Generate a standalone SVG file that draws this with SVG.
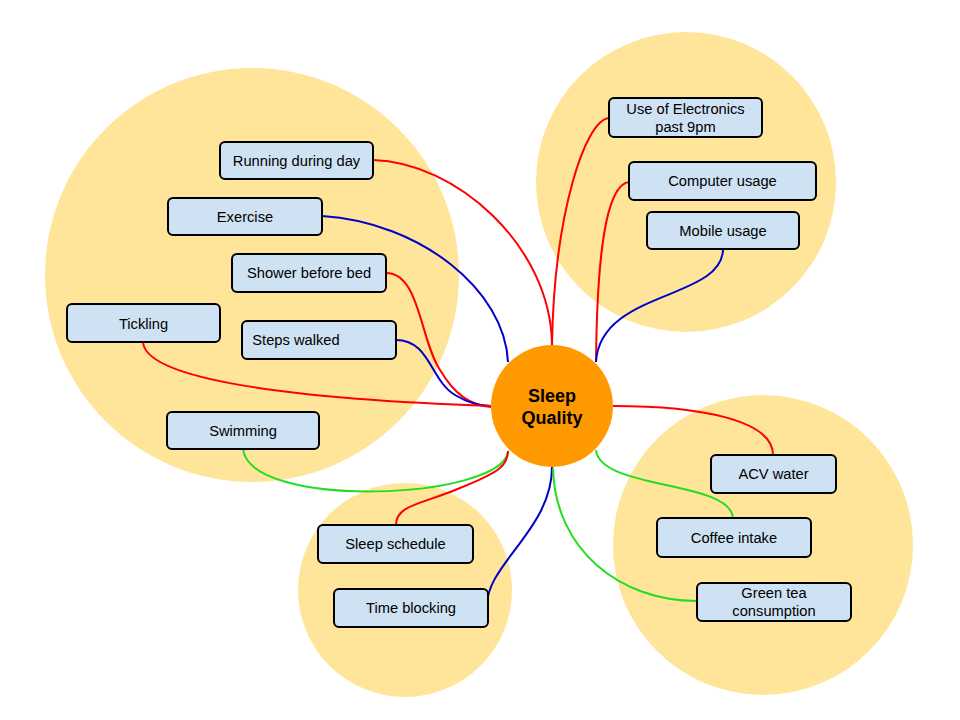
<svg xmlns="http://www.w3.org/2000/svg" width="960" height="720" viewBox="0 0 960 720">
<style>
.bg{fill:#ffe599;stroke:none}
.box{fill:#cfe2f3;stroke:#000;stroke-width:2}
.t{font-family:"Liberation Sans",Arial,sans-serif;font-size:14.7px;fill:#000;text-anchor:middle}
.c{fill:none;stroke-width:2}
.r{stroke:#ff0000}
.b{stroke:#0000cc}
.g{stroke:#22dd22}
</style>
<rect width="960" height="720" fill="#fff"/>
<g id="clusters">
<circle class="bg" cx="252" cy="275" r="207"/>
<circle class="bg" cx="686" cy="182" r="150"/>
<circle class="bg" cx="763" cy="545" r="150"/>
<circle class="bg" cx="405" cy="590" r="107"/>
</g>
<g id="connectors">
<path class="c r" d="M373,160 C455,162 551,245 552,345"/>
<path class="c b" d="M322,216 C420,222 505,290 508,362"/>
<path class="c r" d="M386,273 C420,273 420,340 440,370 C455,395 470,405 491,407"/>
<path class="c b" d="M396,340 C430,340 430,380 455,395 C470,404 480,406 491,406"/>
<path class="c r" d="M143,342 C145,375 260,398 491,406"/>
<path class="c g" d="M243,449 C250,510 500,500 508,452"/>
<path class="c r" d="M396,525 C396,505 420,505 460,488 C500,472 508,465 508,451"/>
<path class="c b" d="M487,607 C485,565 552,530 552,467"/>
<path class="c r" d="M609,118 C585,120 554,215 552,345"/>
<path class="c r" d="M629,182 C605,185 597,260 596,362"/>
<path class="c b" d="M723,249 C723,300 600,290 596,362"/>
<path class="c r" d="M613,406 C700,406 773,420 773,455"/>
<path class="c g" d="M596,450 C600,490 730,480 733,518"/>
<path class="c g" d="M553,468 C555,550 620,601 697,601"/>
</g>
<g id="center">
<circle cx="552" cy="406" r="61" fill="#ff9900"/>
<text x="552" y="402" font-family="Liberation Sans,Arial,sans-serif" font-size="18" font-weight="bold" text-anchor="middle" fill="#000">Sleep</text>
<text x="552" y="424" font-family="Liberation Sans,Arial,sans-serif" font-size="18" font-weight="bold" text-anchor="middle" fill="#000">Quality</text>
</g>
<g id="n-running"><rect class="box" x="220" y="142" width="153" height="37" rx="5"/><text class="t" x="296.5" y="166">Running during day</text></g>
<g id="n-exercise"><rect class="box" x="168" y="198" width="154" height="37" rx="5"/><text class="t" x="245" y="222">Exercise</text></g>
<g id="n-shower"><rect class="box" x="232" y="254" width="154" height="38" rx="5"/><text class="t" x="309" y="278">Shower before bed</text></g>
<g id="n-tickling"><rect class="box" x="67" y="304" width="153" height="38" rx="5"/><text class="t" x="143.5" y="329">Tickling</text></g>
<g id="n-steps"><rect class="box" x="242" y="321" width="154" height="38" rx="5"/><text class="t" x="296" y="345">Steps walked</text></g>
<g id="n-swimming"><rect class="box" x="167" y="412" width="152" height="37" rx="5"/><text class="t" x="243" y="436">Swimming</text></g>
<g id="n-electronics"><rect class="box" x="609" y="98" width="153" height="39" rx="5"/><text class="t" x="685.5" y="114">Use of Electronics</text><text class="t" x="685.5" y="132">past 9pm</text></g>
<g id="n-computer"><rect class="box" x="629" y="162" width="187" height="38" rx="5"/><text class="t" x="722.5" y="186">Computer usage</text></g>
<g id="n-mobile"><rect class="box" x="647" y="212" width="152" height="37" rx="5"/><text class="t" x="723" y="236">Mobile usage</text></g>
<g id="n-acv"><rect class="box" x="711" y="455" width="125" height="38" rx="5"/><text class="t" x="773.5" y="479">ACV water</text></g>
<g id="n-coffee"><rect class="box" x="657" y="518" width="154" height="39" rx="5"/><text class="t" x="734" y="543">Coffee intake</text></g>
<g id="n-greentea"><rect class="box" x="697" y="583" width="154" height="38" rx="5"/><text class="t" x="774" y="598">Green tea</text><text class="t" x="774" y="616">consumption</text></g>
<g id="n-schedule"><rect class="box" x="318" y="525" width="155" height="38" rx="5"/><text class="t" x="395.5" y="549">Sleep schedule</text></g>
<g id="n-timeblock"><rect class="box" x="334" y="589" width="154" height="38" rx="5"/><text class="t" x="411" y="613">Time blocking</text></g>
</svg>
